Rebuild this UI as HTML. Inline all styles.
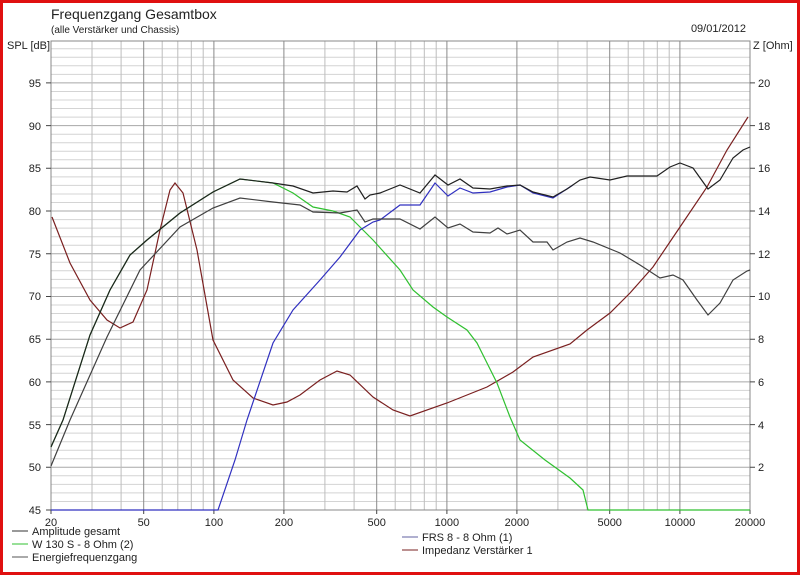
<!DOCTYPE html>
<html><head><meta charset="utf-8"><style>
html,body{margin:0;padding:0;background:#fff}
svg{display:block}
text{font-family:"Liberation Sans",sans-serif;fill:#222}
</style></head><body>
<svg width="800" height="575" viewBox="0 0 800 575" xmlns="http://www.w3.org/2000/svg">
<rect x="1.5" y="1.5" width="797" height="572" fill="#fff" stroke="#e01010" stroke-width="3"/>
<text x="51" y="19" font-size="14">Frequenzgang Gesamtbox</text>
<text x="51" y="33" font-size="10">(alle Verstärker und Chassis)</text>
<text x="7" y="49" font-size="11">SPL [dB]</text>
<text x="753" y="49" font-size="11">Z [Ohm]</text>
<text x="746" y="32" font-size="11" text-anchor="end">09/01/2012</text>
<g fill="none">
<path stroke="#d4d4d4" d="M51 501.5H750M51 492.9H750M51 484.4H750M51 475.8H750M51 458.8H750M51 450.2H750M51 441.7H750M51 433.1H750M51 416.1H750M51 407.5H750M51 399H750M51 390.4H750M51 373.3H750M51 364.8H750M51 356.3H750M51 347.7H750M51 330.6H750M51 322.1H750M51 313.5H750M51 305H750M51 287.9H750M51 279.4H750M51 270.8H750M51 262.3H750M51 245.2H750M51 236.7H750M51 228.1H750M51 219.6H750M51 202.5H750M51 194H750M51 185.4H750M51 176.9H750M51 159.8H750M51 151.3H750M51 142.7H750M51 134.2H750M51 117.1H750M51 108.5H750M51 100H750M51 91.5H750M51 74.4H750M51 65.8H750M51 57.3H750M51 48.7H750"/>
<path stroke="#a8a8a8" d="M51 467.3H750M51 424.6H750M51 381.9H750M51 339.2H750M51 296.5H750M51 253.8H750M51 211H750M51 168.3H750M51 125.6H750M51 82.9H750"/>
<path stroke="#bdbdbd" d="M92 41V510M121.1 41V510M162.2 41V510M177.8 41V510M191.3 41V510M203.2 41V510M324.9 41V510M354.1 41V510M395.2 41V510M410.8 41V510M424.3 41V510M436.2 41V510M557.9 41V510M587.1 41V510M628.2 41V510M643.8 41V510M657.3 41V510M669.2 41V510"/>
<path stroke="#8a8a8a" d="M143.7 41V510M213.9 41V510M283.9 41V510M376.7 41V510M446.9 41V510M516.9 41V510M609.7 41V510M679.9 41V510"/>
<rect x="51" y="41" width="699" height="469" stroke="#888"/>
<path stroke="#444" d="M46 510H51M46 467.3H51M46 424.6H51M46 381.9H51M46 339.2H51M46 296.5H51M46 253.8H51M46 211H51M46 168.3H51M46 125.6H51M46 82.9H51M750 467.3H755M750 424.6H755M750 381.9H755M750 339.2H755M750 296.5H755M750 253.8H755M750 211H755M750 168.3H755M750 125.6H755M750 82.9H755M51 510V514M143.7 510V514M213.9 510V514M283.9 510V514M376.7 510V514M446.9 510V514M516.9 510V514M609.7 510V514M679.9 510V514M750 510V514"/>
</g>
<g font-size="11" text-anchor="end">
<text x="41" y="514">45</text><text x="41" y="471">50</text><text x="41" y="429">55</text><text x="41" y="386">60</text><text x="41" y="343">65</text><text x="41" y="300">70</text><text x="41" y="258">75</text><text x="41" y="215">80</text><text x="41" y="172">85</text><text x="41" y="130">90</text><text x="41" y="87">95</text>
</g>
<g font-size="11">
<text x="758" y="471">2</text><text x="758" y="429">4</text><text x="758" y="386">6</text><text x="758" y="343">8</text><text x="758" y="300">10</text><text x="758" y="258">12</text><text x="758" y="215">14</text><text x="758" y="172">16</text><text x="758" y="130">18</text><text x="758" y="87">20</text>
</g>
<g font-size="11" text-anchor="middle">
<text x="51" y="526">20</text><text x="143.7" y="526">50</text><text x="213.9" y="526">100</text><text x="283.9" y="526">200</text><text x="376.7" y="526">500</text><text x="446.9" y="526">1000</text><text x="516.9" y="526">2000</text><text x="609.7" y="526">5000</text><text x="679.9" y="526">10000</text><text x="750" y="526">20000</text>
</g>
<g fill="none" stroke-width="1.2">
<polyline stroke="#7a2020" points="52,217 70,263 90,300 107,320 120,328 133,322 147,290 160,230 170,190 175,183 183,193 197,250 213,340 233,380 253,398 273,405 287,402 300,395 320,380 337,371 350,375 373,397 393,410 410,416 447,403 487,387 513,372 533,357 570,344 587,330 610,313 630,293 653,267 680,227 707,187 727,150 748,117"/>
<polyline stroke="#30c030" points="51,447 63,420 90,335 110,290 130,255 147,240 180,213 213,192 240,179 273,183 293,193 313,207 333,211 350,217 363,230 373,240 400,270 413,290 433,307 447,317 467,330 477,343 487,363 497,383 510,417 520,440 545,460 570,478 583,490 588,510 750,510"/>
<polyline stroke="#3030c0" points="51,510 218,510 235,460 247,420 273,343 293,310 320,280 340,257 360,230 373,222 380,220 400,205 420,205 435,183 448,196 460,188 473,193 490,192 507,187 520,185 533,193 553,198 573,185"/>
<polyline stroke="#202020" points="51,447 63,420 90,335 110,290 130,255 147,240 180,213 213,192 240,179 273,183 293,186 313,193 333,191 347,192 357,186 365,199 370,195 380,193 400,185 420,193 435,175 448,185 460,179 473,188 490,189 507,186 520,185 533,192 553,197 567,189 580,180 590,177 610,180 627,176 657,176 670,167 680,163 693,168 708,189 720,180 733,158 743,150 750,147"/>
<polyline stroke="#404040" points="51,466 70,420 107,337 140,270 180,227 213,208 240,198 273,202 300,205 313,212 340,213 357,210 365,222 373,219 400,219 420,229 435,217 448,228 460,224 473,232 490,233 498,228 507,234 520,230 533,242 547,242 553,250 567,242 580,238 593,242 620,253 640,265 660,278 673,275 683,280 697,300 708,315 720,303 733,280 747,271 750,270"/>
</g>
<g font-size="11">
<line x1="12" y1="531" x2="28" y2="531" stroke="#333"/><text x="32" y="535">Amplitude gesamt</text>
<line x1="12" y1="544" x2="28" y2="544" stroke="#30c030"/><text x="32" y="548">W 130 S - 8 Ohm (2)</text>
<line x1="12" y1="557" x2="28" y2="557" stroke="#555"/><text x="32" y="561">Energiefrequenzgang</text>
<line x1="402" y1="537" x2="418" y2="537" stroke="#6060a0"/><text x="422" y="541">FRS 8 - 8 Ohm (1)</text>
<line x1="402" y1="550" x2="418" y2="550" stroke="#7a2020"/><text x="422" y="554">Impedanz Verstärker 1</text>
</g>
</svg>
</body></html>
